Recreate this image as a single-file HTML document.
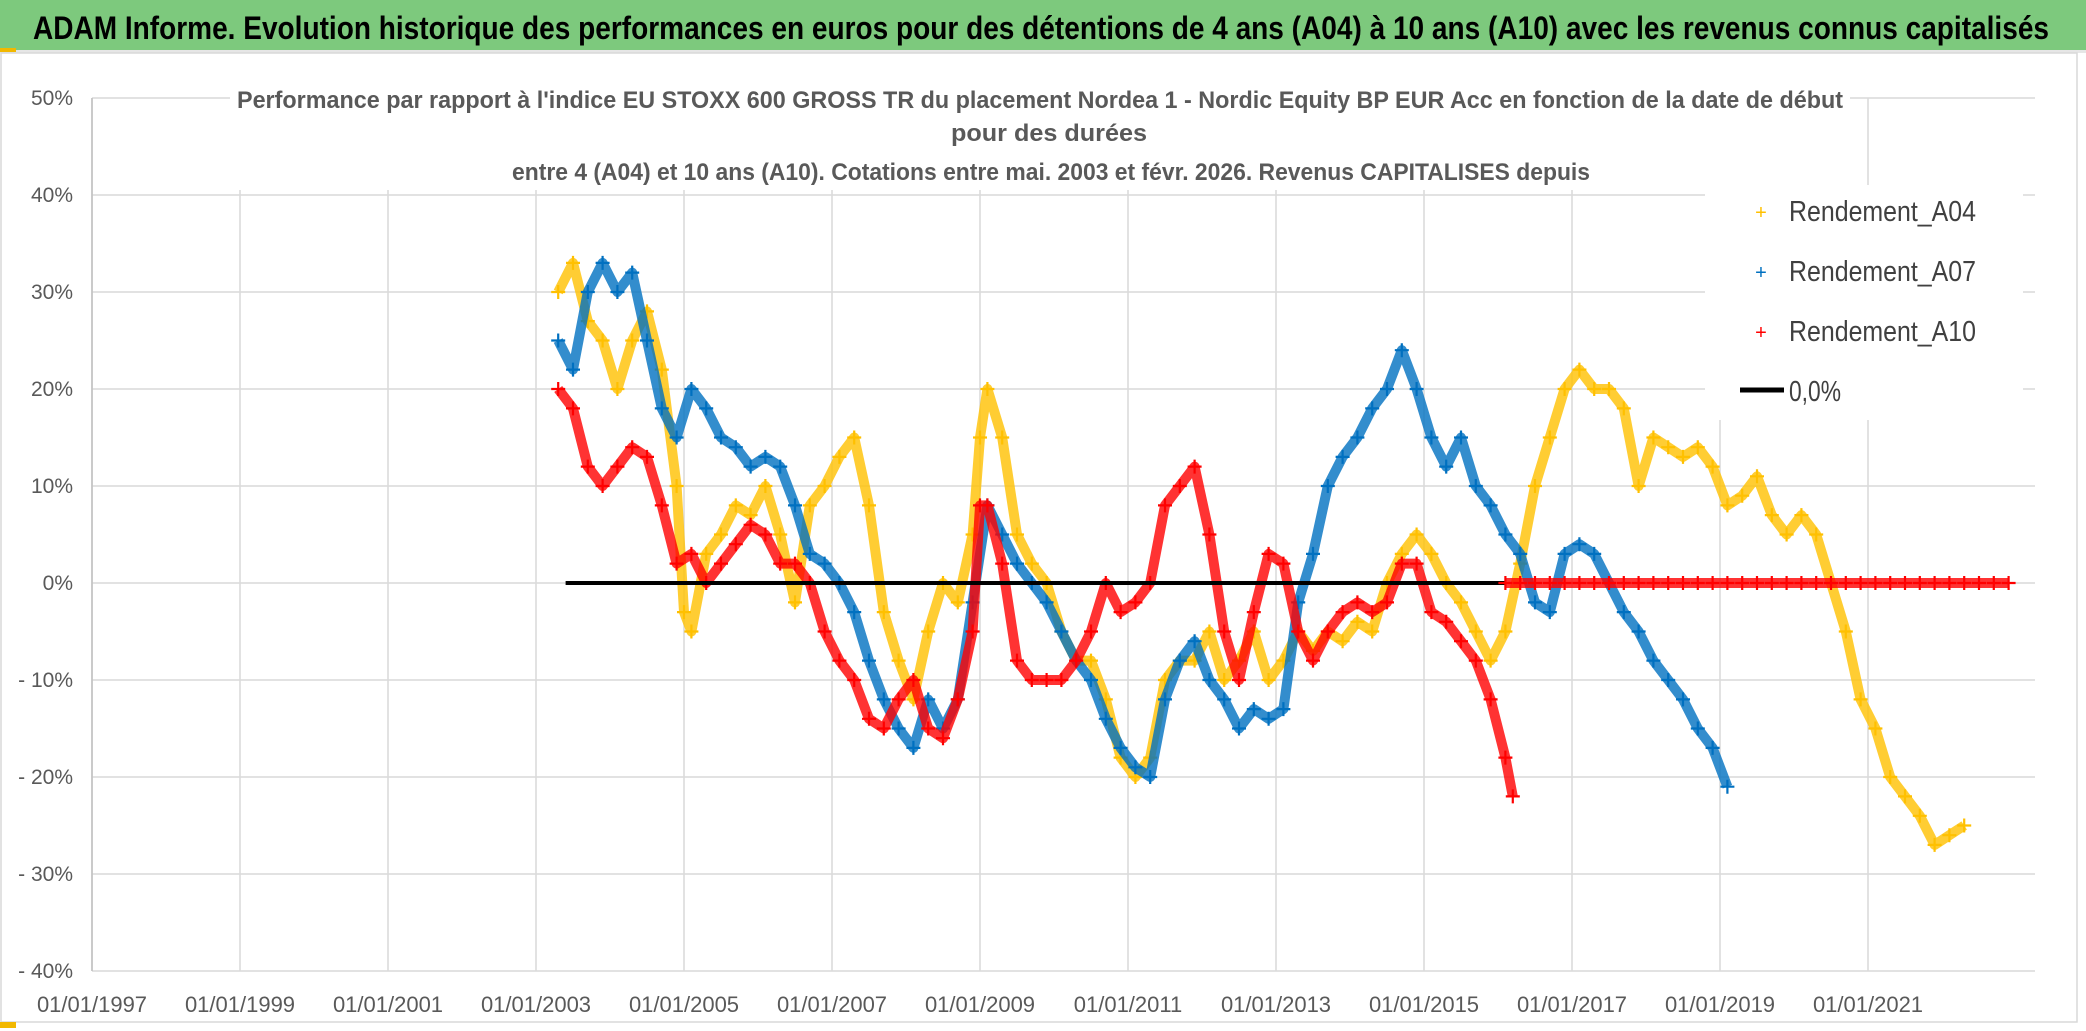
<!DOCTYPE html>
<html><head><meta charset="utf-8"><style>
html,body{margin:0;padding:0;background:#fff;}
svg{display:block;font-family:"Liberation Sans Narrow","Liberation Sans",sans-serif;}
</style></head><body>
<svg id="chart" width="2086" height="1031" viewBox="0 0 2086 1031" xmlns="http://www.w3.org/2000/svg">
<rect x="0" y="0" width="2086" height="1031" fill="#fff"/>
<rect x="0" y="0" width="2086" height="50" fill="#7dc97d"/>
<rect x="0" y="50" width="2086" height="3" fill="#e6e6e6"/>
<rect x="0" y="48" width="16" height="4" fill="#f2b800"/>
<text x="33" y="39" font-size="32" font-weight="bold" fill="#000" textLength="2016" lengthAdjust="spacingAndGlyphs">ADAM Informe. Evolution historique des performances en euros pour des détentions de 4 ans (A04) à 10 ans (A10) avec les revenus connus capitalisés</text>
<rect x="1" y="53" width="2076" height="969" fill="none" stroke="#d9d9d9" stroke-width="1.5"/>
<rect x="0" y="1022" width="16" height="6" fill="#f2b800"/>
<g id="grid"></g>
<g id="axes"></g>
<rect x="230" y="82" width="1620" height="108" fill="#fff"/>
<g fill="#595959" font-size="24" font-weight="bold">
<text x="237" y="108" textLength="1606" lengthAdjust="spacingAndGlyphs">Performance par rapport à l'indice EU STOXX 600 GROSS TR  du placement Nordea 1 - Nordic Equity BP EUR Acc en fonction de la date de début</text>
<text x="951" y="141" textLength="196" lengthAdjust="spacingAndGlyphs">pour des durées</text>
<text x="512" y="180" textLength="1078" lengthAdjust="spacingAndGlyphs">entre 4 (A04) et 10 ans (A10). Cotations entre mai. 2003 et févr. 2026. Revenus CAPITALISES depuis</text>
</g>
<g id="series"></g>
<rect x="1705" y="185" width="318" height="235" fill="#fff"/>
<g font-size="29" fill="#404040">
<g><text x="1761" y="219" text-anchor="middle" fill="#ffc000" font-size="20">+</text><text x="1789" y="221" textLength="187" lengthAdjust="spacingAndGlyphs">Rendement_A04</text></g>
<g><text x="1761" y="279" text-anchor="middle" fill="#0070c0" font-size="20">+</text><text x="1789" y="281" textLength="187" lengthAdjust="spacingAndGlyphs">Rendement_A07</text></g>
<g><text x="1761" y="339" text-anchor="middle" fill="#ff0000" font-size="20">+</text><text x="1789" y="341" textLength="187" lengthAdjust="spacingAndGlyphs">Rendement_A10</text></g>
<g><line x1="1740" y1="390" x2="1784" y2="390" stroke="#000" stroke-width="5"/><text x="1789" y="401" textLength="52" lengthAdjust="spacingAndGlyphs">0,0%</text></g>
</g>
</svg>
<script>
const yTicks=[50,40,30,20,10,0,-10,-20,-30,-40];
const yTickLabels=["50%","40%","30%","20%","10%","0%","- 10%","- 20%","- 30%","- 40%"];
const xTicks=[1997,1999,2001,2003,2005,2007,2009,2011,2013,2015,2017,2019,2021];
const xTickLabels=["01/01/1997","01/01/1999","01/01/2001","01/01/2003","01/01/2005","01/01/2007","01/01/2009","01/01/2011","01/01/2013","01/01/2015","01/01/2017","01/01/2019","01/01/2021"];
const a04Years=[2003.3,2003.5,2003.7,2003.9,2004.1,2004.3,2004.5,2004.7,2004.9,2005.0,2005.1,2005.3,2005.5,2005.7,2005.9,2006.1,2006.3,2006.5,2006.7,2006.9,2007.1,2007.3,2007.5,2007.7,2007.9,2008.1,2008.3,2008.5,2008.7,2008.9,2009.0,2009.1,2009.3,2009.5,2009.7,2009.9,2010.1,2010.3,2010.5,2010.7,2010.9,2011.1,2011.3,2011.5,2011.7,2011.9,2012.1,2012.3,2012.5,2012.7,2012.9,2013.1,2013.3,2013.5,2013.7,2013.9,2014.1,2014.3,2014.5,2014.7,2014.9,2015.1,2015.3,2015.5,2015.7,2015.9,2016.1,2016.3,2016.5,2016.7,2016.9,2017.1,2017.3,2017.5,2017.7,2017.9,2018.1,2018.3,2018.5,2018.7,2018.9,2019.1,2019.3,2019.5,2019.7,2019.9,2020.1,2020.3,2020.5,2020.7,2020.9,2021.1,2021.3,2021.5,2021.7,2021.9,2022.1,2022.3];
const a04Values=[30,33,27,25,20,25,28,22,10,-3,-5,3,5,8,7,10,5,-2,8,10,13,15,8,-3,-8,-12,-5,0,-2,5,15,20,15,5,2,0,-5,-8,-8,-12,-18,-20,-18,-10,-8,-8,-5,-10,-8,-5,-10,-8,-5,-7,-5,-6,-4,-5,0,3,5,3,0,-2,-5,-8,-5,2,10,15,20,22,20,20,18,10,15,14,13,14,12,8,9,11,7,5,7,5,0,-5,-12,-15,-20,-22,-24,-27,-26,-25];
const a07Years=[2003.3,2003.5,2003.7,2003.9,2004.1,2004.3,2004.5,2004.7,2004.9,2005.1,2005.3,2005.5,2005.7,2005.9,2006.1,2006.3,2006.5,2006.7,2006.9,2007.1,2007.3,2007.5,2007.7,2007.9,2008.1,2008.3,2008.5,2008.7,2008.9,2009.1,2009.3,2009.5,2009.7,2009.9,2010.1,2010.3,2010.5,2010.7,2010.9,2011.1,2011.3,2011.5,2011.7,2011.9,2012.1,2012.3,2012.5,2012.7,2012.9,2013.1,2013.3,2013.5,2013.7,2013.9,2014.1,2014.3,2014.5,2014.7,2014.9,2015.1,2015.3,2015.5,2015.7,2015.9,2016.1,2016.3,2016.5,2016.7,2016.9,2017.1,2017.3,2017.5,2017.7,2017.9,2018.1,2018.3,2018.5,2018.7,2018.9,2019.1];
const a07Values=[25,22,30,33,30,32,25,18,15,20,18,15,14,12,13,12,8,3,2,0,-3,-8,-12,-15,-17,-12,-15,-12,-2,8,5,2,0,-2,-5,-8,-10,-14,-17,-19,-20,-12,-8,-6,-10,-12,-15,-13,-14,-13,-2,3,10,13,15,18,20,24,20,15,12,15,10,8,5,3,-2,-3,3,4,3,0,-3,-5,-8,-10,-12,-15,-17,-21];
const a10Years=[2003.3,2003.5,2003.7,2003.9,2004.1,2004.3,2004.5,2004.7,2004.9,2005.1,2005.3,2005.5,2005.7,2005.9,2006.1,2006.3,2006.5,2006.7,2006.9,2007.1,2007.3,2007.5,2007.7,2007.9,2008.1,2008.3,2008.5,2008.7,2008.9,2009.0,2009.1,2009.3,2009.5,2009.7,2009.9,2010.1,2010.3,2010.5,2010.7,2010.9,2011.1,2011.3,2011.5,2011.7,2011.9,2012.1,2012.3,2012.5,2012.7,2012.9,2013.1,2013.3,2013.5,2013.7,2013.9,2014.1,2014.3,2014.5,2014.7,2014.9,2015.1,2015.3,2015.5,2015.7,2015.9,2016.1,2016.2];
const a10Values=[20,18,12,10,12,14,13,8,2,3,0,2,4,6,5,2,2,0,-5,-8,-10,-14,-15,-12,-10,-15,-16,-12,-5,8,8,2,-8,-10,-10,-10,-8,-5,0,-3,-2,0,8,10,12,5,-5,-10,-3,3,2,-5,-8,-5,-3,-2,-3,-2,2,2,-3,-4,-6,-8,-12,-18,-22];
const a10TailYears=[2016.1,2016.3,2016.5,2016.7,2016.9,2017.1,2017.3,2017.5,2017.7,2017.9,2018.1,2018.3,2018.5,2018.7,2018.9,2019.1,2019.3,2019.5,2019.7,2019.9,2020.1,2020.3,2020.5,2020.7,2020.9,2021.1,2021.3,2021.5,2021.7,2021.9,2022.1,2022.3,2022.5,2022.7,2022.9];
const a10TailValues=[0,0,0,0,0,0,0,0,0,0,0,0,0,0,0,0,0,0,0,0,0,0,0,0,0,0,0,0,0,0,0,0,0,0,0];
const zeroLineYears=[2003.4,2016.1];
const zeroLineValues=[0,0];

const NS="http://www.w3.org/2000/svg";
const X0=92, PX_PER_YEAR=74, Y0=583, PX_PER_PCT=9.7, PLOT_TOP=98, PLOT_BOTTOM=971, PLOT_RIGHT=2035;
function xScale(yr){return X0+(yr-1997)*PX_PER_YEAR;}
function yScale(v){return Y0-v*PX_PER_PCT;}
function mk(tag,attrs,parent){const e=document.createElementNS(NS,tag);for(const k in attrs)e.setAttribute(k,attrs[k]);parent.appendChild(e);return e;}
const grid=document.getElementById('grid'),axes=document.getElementById('axes'),series=document.getElementById('series');
yTicks.forEach((v,i)=>{
  const l=mk('line',{x1:X0,x2:PLOT_RIGHT,y1:yScale(v),y2:yScale(v),stroke:'#d9d9d9','stroke-width':1.5},grid);
  
  
  const t=mk('text',{x:73,y:yScale(v)+7,'text-anchor':'end','font-size':21,fill:'#595959'},axes);
  t.textContent=yTickLabels[i];
  
  
});
xTicks.forEach((yr,i)=>{
  const l=mk('line',{x1:xScale(yr),x2:xScale(yr),y1:PLOT_TOP,y2:PLOT_BOTTOM,stroke:'#d9d9d9','stroke-width':1.5},grid);
  
  
  const t=mk('text',{x:xScale(yr),y:1012,'text-anchor':'middle','font-size':22,fill:'#595959'},axes);
  t.textContent=xTickLabels[i];
  
  
});
const ax=mk('line',{x1:X0,x2:X0,y1:PLOT_TOP,y2:PLOT_BOTTOM,stroke:'#bfbfbf','stroke-width':1.5},axes);



function drawSeries(years,vals,color,name){
  const g=mk('g',{},series);
  
  
  const pts=years.map((yr,i)=>xScale(yr)+','+yScale(vals[i])).join(' ');
  mk('polyline',{points:pts,fill:'none',stroke:color,'stroke-width':10,'stroke-opacity':0.8,'stroke-linejoin':'round'},g);
  years.forEach((yr,i)=>{
    const x=xScale(yr),y=yScale(vals[i]);
    const p=mk('path',{d:`M${x-7},${y}H${x+7}M${x},${y-7}V${y+7}`,stroke:color,'stroke-width':2.2},g);
    
    
  });
}
drawSeries(a04Years,a04Values,'#ffc000','series-a04');
drawSeries(a07Years,a07Values,'#0070c0','series-a07');
drawSeries(a10Years,a10Values,'#ff0000','series-a10');
const zl=mk('line',{x1:xScale(zeroLineYears[0]),x2:xScale(zeroLineYears[1]),y1:yScale(zeroLineValues[0]),y2:yScale(zeroLineValues[1]),stroke:'#000','stroke-width':4},series);


drawSeries(a10TailYears,a10TailValues,'#ff0000','series-a10-tail');
</script>
</body></html>
